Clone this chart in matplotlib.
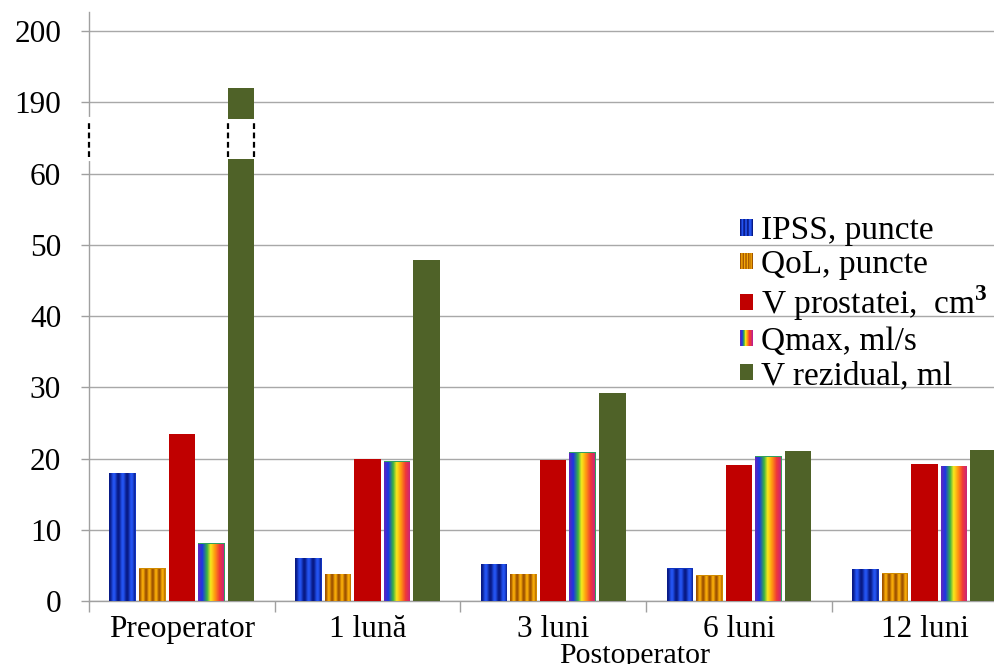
import numpy as np
import matplotlib
matplotlib.use("Agg")
import matplotlib.pyplot as plt
from matplotlib.colors import LinearSegmentedColormap, to_rgb
from matplotlib.legend_handler import HandlerBase
from matplotlib.patches import Rectangle

plt.rcParams["font.family"] = ["Liberation Serif", "DejaVu Serif"]
plt.rcParams["mathtext.fontset"] = "custom"
plt.rcParams["mathtext.rm"] = "Liberation Serif"
plt.rcParams["mathtext.bf"] = "Liberation Serif:bold"

# ---- data -------------------------------------------------------------
categories = ["Preoperator", "1 lună", "3 luni", "6 luni", "12 luni"]
ipss = [18.0, 6.1, 5.2, 4.6, 4.5]
qol = [4.6, 3.8, 3.8, 3.6, 3.9]
v_prostate = [23.4, 20.0, 19.8, 19.1, 19.2]
qmax = [8.1, 19.6, 20.9, 20.3, 19.0]
v_residual = [192.0, 47.9, 29.2, 21.1, 21.2]
series_labels = ["IPSS, puncte", "QoL, puncte",
                 r"V prostatei,  cm$^{\mathbf{3}}$", "Qmax, ml/s",
                 "V rezidual, ml"]
y_ticks = [0, 10, 20, 30, 40, 50, 60, 190, 200]
postop_label = "Postoperator"

# ---- broken y scale: 60..190 squeezed into one grid step --------------
LOW, HIGH, SQUEEZE = 60.0, 190.0, 13.0


def fwd(v):
    v = np.asarray(v, dtype=float)
    return np.where(v <= LOW, v,
                    np.where(v >= HIGH, v - (HIGH - LOW) + 10.0,
                             LOW + (v - LOW) / SQUEEZE))


def inv(p):
    p = np.asarray(p, dtype=float)
    return np.where(p <= LOW, p,
                    np.where(p >= LOW + 10.0, p + (HIGH - LOW) - 10.0,
                             LOW + (p - LOW) * SQUEEZE))


# ---- fill patterns ----------------------------------------------------
def stripes(dark, light, n_stripes, n=240):
    t = np.linspace(0, 1, n)
    w = 0.5 - 0.5 * np.cos(2 * np.pi * n_stripes * t)
    d, l = np.array(to_rgb(dark)), np.array(to_rgb(light))
    return d[None, :] + (l - d)[None, :] * w[:, None]


rainbow = LinearSegmentedColormap.from_list(
    "rb", [(0.0, "#5a28c0"), (0.14, "#1c36e4"), (0.32, "#38b048"),
           (0.46, "#f8e81c"), (0.62, "#ff9810"), (0.80, "#f03838"),
           (1.0, "#c0208a")])

patterns = [
    stripes("#081a86", "#2454f2", 3),
    stripes("#a05400", "#f6aa08", 4),
    np.tile(np.array(to_rgb("#c00000")), (2, 1)),
    rainbow(np.linspace(0, 1, 240))[:, :3],
    np.tile(np.array(to_rgb("#4f6228")), (2, 1)),
]
base_colors = ["#1034c0", "#d08a00", "#c00000", "#30a060", "#4f6228"]
patterned = [True, True, False, True, False]


class PatternHandler(HandlerBase):
    def __init__(self, rgb, slices=12):
        super().__init__()
        idx = np.linspace(0, len(rgb) - 1, slices).astype(int)
        self.rgb = rgb[idx]

    def create_artists(self, legend, orig_handle, xdescent, ydescent,
                       width, height, fontsize, trans):
        n = len(self.rgb)
        arts = []
        for i, c in enumerate(self.rgb):
            r = Rectangle((-xdescent + i * width / n, -ydescent),
                          width / n * 1.06, height, facecolor=c,
                          linewidth=0, transform=trans)
            arts.append(r)
        return arts


# ---- figure -----------------------------------------------------------
fig = plt.figure(figsize=(9.95, 6.64), dpi=100)
ax = fig.add_axes([0.0894, 0.0949, 0.9332, 0.8870])
ax.set_yscale("function", functions=(fwd, inv))

series = [ipss, qol, v_prostate, qmax, v_residual]
step, width = 0.159, 0.143
offsets = (np.arange(5) - 2) * step
xc = np.arange(len(categories))

handles = []
for k, vals in enumerate(series):
    rects = ax.bar(xc + offsets[k], vals, width, color=base_colors[k],
                   linewidth=0, zorder=3)
    handles.append(rects[0])
    if patterned[k]:
        for r, v in zip(rects, vals):
            im = ax.imshow(patterns[k][None, :, :],
                           extent=(r.get_x(), r.get_x() + r.get_width(), 0, v),
                           aspect="auto", interpolation="bilinear", zorder=3.5)
            im.set_clip_path(r)

ax.set_xlim(-0.5, len(categories) - 0.5)
ax.set_ylim(0, 202.7)

# axis break on the tall bar and on the y axis
gap_lo, gap_hi = 87.0, 160.0
dash_lo, dash_hi = 90.0, 157.0
tall = int(np.argmax(v_residual))
bx0 = xc[tall] + offsets[4] - width / 2
bx1 = xc[tall] + offsets[4] + width / 2
ax.fill_between([bx0, bx1], gap_lo, gap_hi, color="white", zorder=4,
                linewidth=0)
ax.plot([-0.5, -0.5], [gap_lo, gap_hi], color="white", lw=3, zorder=5,
        clip_on=False)
for x in (-0.5, bx0, bx1):
    ax.plot([x, x], [dash_lo, dash_hi], color="black", lw=1.6,
            ls=(0, (2.6, 1.6)), zorder=6, clip_on=False)

# axes styling
grey = "#a0a0a0"
for s in ("top", "right"):
    ax.spines[s].set_visible(False)
for s in ("left", "bottom"):
    ax.spines[s].set_color(grey)
    ax.spines[s].set_linewidth(1)

ax.set_yticks(y_ticks)
ax.set_yticklabels([str(t) for t in y_ticks])
ax.yaxis.set_minor_locator(matplotlib.ticker.NullLocator())
ax.tick_params(axis="y", which="major", length=6, width=1, color=grey,
               pad=14, labelsize=22.5)
ax.yaxis.grid(True, color="#a8a8a8", linewidth=1)
ax.set_axisbelow(True)

ax.set_xticks(np.arange(len(categories) + 1) - 0.5)
ax.set_xticklabels([])
ax.set_xticks(xc, minor=True)
ax.set_xticklabels(categories, minor=True)
ax.tick_params(axis="x", which="major", length=8, width=1, color=grey)
ax.tick_params(axis="x", which="minor", length=0, pad=10, labelsize=22.5)

fig.text(0.638, 0.0125, postop_label, ha="center", va="center",
         fontsize=21.5)

leg = ax.legend(handles, series_labels, loc="upper left",
                bbox_to_anchor=(0.7437, 0.675), bbox_transform=fig.transFigure,
                frameon=False, fontsize=24, handlelength=0.38,
                handleheight=0.38, handletextpad=0.26, labelspacing=0.1,
                borderpad=0, borderaxespad=0,
                handler_map={h: PatternHandler(p) for h, p in
                             zip(handles, patterns)})

fig.savefig("out.png", dpi=100)
